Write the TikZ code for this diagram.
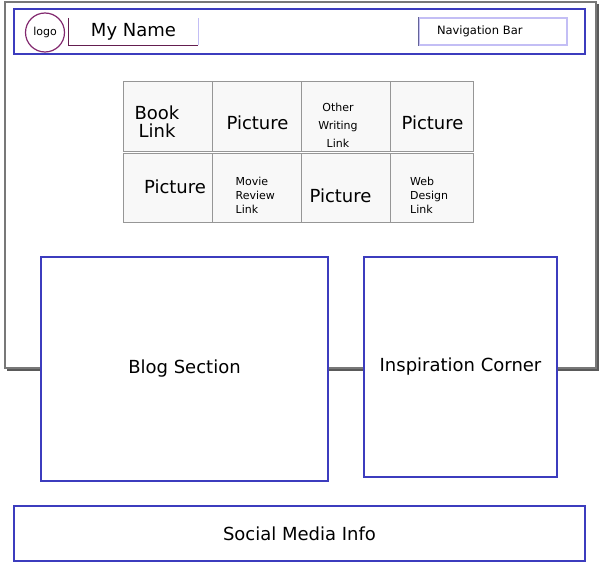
\documentclass[tikz,border=0pt]{standalone}
\usepackage{fontspec}
\setmainfont{DejaVu Sans}
\definecolor{framegray}{RGB}{120,120,120}
\definecolor{shadowgray}{RGB}{90,90,90}
\definecolor{boxblue}{RGB}{60,60,190}
\definecolor{logopurple}{RGB}{130,40,110}
\definecolor{namepurple}{RGB}{100,30,80}
\definecolor{lavender}{RGB}{195,190,245}
\definecolor{cellgray}{RGB}{248,248,248}
\definecolor{celledge}{RGB}{150,150,150}
\tikzstyle{every node}=[inner sep=0pt, font=\fontsize{18}{18}\selectfont]
\tikzstyle{block}=[draw=boxblue, fill=white, line width=1.2pt]
\tikzstyle{cell}=[draw=celledge, fill=cellgray, line width=1pt]
\tikzstyle{small}=[font=\fontsize{11}{14}\selectfont]

\begin{document}
\begin{tikzpicture}[x=1pt, y=-1pt]
\useasboundingbox (0,0) rectangle (604,572);
% Page frame
    \draw[framegray, line width=1.5pt] (5,2) rectangle (596,368);
    \draw[shadowgray, line width=2pt] (597.5,4) -- (597.5,369.5) -- (7,369.5);
% Header
    \node[draw=boxblue, line width=1.2pt, minimum width=571, minimum height=45] (header) at (299.5,31.5) {};
    \node[draw=logopurple, line width=1.2pt, circle, minimum size=39, font=\fontsize{11}{13}\selectfont] (logo) at (45,32.5) {logo};
    \node[minimum width=129, minimum height=27] (name) at (133.5,31.5) {My Name};
    \draw[namepurple, line width=1.2pt] (name.north west) -- (name.south west) -- (name.south east);
    \draw[lavender, line width=1.2pt] (name.south east) -- (name.north east);
    \node[draw=lavender, line width=1.2pt, text width=112, inner xsep=18, minimum height=27, align=left, font=\fontsize{11.5}{13}\selectfont] (nav) at (493,31.5) {Navigation Bar};
    \draw[boxblue!40!gray, line width=1.2pt] (nav.north west) -- (nav.south west);
% Link grid
    \node[cell, minimum width=89, minimum height=70] (c11) at (167.5,117) {};
    \node[cell, minimum width=89, minimum height=70] (c12) at (256.5,117) {};
    \node[cell, minimum width=89, minimum height=70] (c13) at (345.5,117) {};
    \node[cell, minimum width=83, minimum height=70] (c14) at (431.5,117) {};
    \node[cell, minimum width=89, minimum height=68] (c21) at (167.5,188) {};
    \node[cell, minimum width=89, minimum height=68] (c22) at (256.5,188) {};
    \node[cell, minimum width=89, minimum height=68] (c23) at (345.5,188) {};
    \node[cell, minimum width=83, minimum height=68] (c24) at (431.5,188) {};
% Grid texts
    \node[align=center] (book) at (157,122) {Book\\Link};
    \node (pic1) at (257.5,123) {Picture};
    \node[small, align=center, font=\fontsize{11}{18}\selectfont] (other) at (338,125) {Other\\Writing\\Link};
    \node (pic2) at (432.5,123) {Picture};
    \node (pic3) at (175,187) {Picture};
    \node[small, align=left, anchor=west] (movie) at (235.5,195) {Movie\\Review\\Link};
    \node (pic4) at (340.5,196) {Picture};
    \node[small, align=left, anchor=west] (web) at (410,195) {Web\\Design\\Link};
% Content blocks
    \node[block, minimum width=287, minimum height=224] (blog) at (184.5,369) {Blog Section};
    \node[block, minimum width=193, minimum height=220] (insp) at (460.5,367) {Inspiration Corner};
    \node[block, minimum width=571, minimum height=55] (social) at (299.5,533.5) {Social Media Info};
\end{tikzpicture}
\end{document}
